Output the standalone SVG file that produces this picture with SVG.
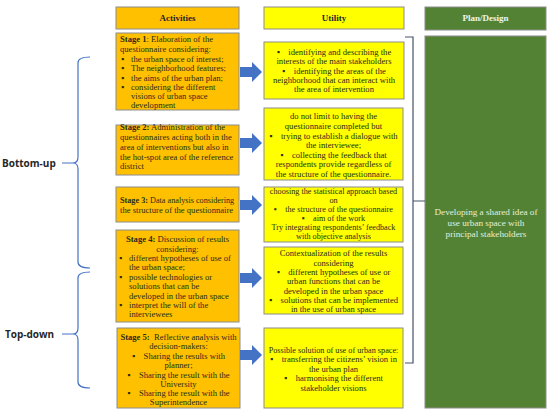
<svg xmlns="http://www.w3.org/2000/svg" width="550" height="414" viewBox="0 0 550 414">
<defs>
<style>
.org{fill:#FFC000;stroke:#8c8c8c;stroke-width:1}
.yel{fill:#FFFF00;stroke:#8c8c8c;stroke-width:1}
.grn{fill:#548235;stroke:#8c8c8c;stroke-width:1}
.t{font-family:"Liberation Serif",serif;font-size:8.6px;fill:#2b2b1a;white-space:pre}
.s{font-size:8.2px}
.c{text-anchor:middle}
.b{font-weight:bold}
.h{font-family:"Liberation Serif",serif;font-size:9px;font-weight:bold;text-anchor:middle;fill:#262626}
.gt{font-family:"Liberation Serif",serif;font-size:9.2px;text-anchor:middle;fill:#e2efd9}
.lbl{font-family:"Open Sans",sans-serif;font-size:10px;font-weight:bold;fill:#262626}
.brace{fill:none;stroke:#4472C4;stroke-width:1.2}
.rb{fill:none;stroke:#44546A;stroke-width:1.2}
</style>
<path id="arr" d="M0,-5 H12 V-10 L22,0 L12,10 V5 H0 Z" fill="#4472C4"/>
</defs>

<g id="header-activities"><rect class="org" x="116" y="7" width="123" height="22"/><text class="h" x="177.5" y="21">Activities</text></g>
<g id="header-utility"><rect class="yel" x="264" y="7" width="140" height="22"/><text class="h" x="334" y="21">Utility</text></g>
<g id="header-plan"><rect class="grn" x="425" y="7" width="121" height="23"/><text class="h" x="485.5" y="21" style="fill:#eef5ea">Plan/Design</text></g>

<g id="stage1"><rect class="org" x="116" y="33" width="123" height="77"/>
<text class="t" x="120" y="42"><tspan class="b">Stage 1</tspan>: Elaboration of the</text>
<text class="t" x="120" y="52">questionnaire considering:</text>
<text class="t" x="121" y="62">▪</text><text class="t" x="131" y="62">the urban space of interest;</text>
<text class="t" x="121" y="71">▪</text><text class="t" x="131" y="71">The neighborhood features;</text>
<text class="t" x="121" y="81">▪</text><text class="t" x="131" y="81">the aims of the urban plan;</text>
<text class="t" x="121" y="90">▪</text><text class="t" x="131" y="90">considering the different</text>
<text class="t" x="131" y="99">visions of urban space</text>
<text class="t" x="131" y="108">development</text>
</g>

<g id="stage2"><rect class="org" x="116" y="125" width="123" height="50"/>
<text class="t" x="120" y="130"><tspan class="b">Stage 2:</tspan> Administration of the</text>
<text class="t" x="120" y="140">questionnaires acting both in the</text>
<text class="t" x="120" y="150">area of interventions but also in</text>
<text class="t" x="120" y="160">the hot-spot area of the reference</text>
<text class="t" x="120" y="169">district</text>
</g>

<g id="stage3"><rect class="org" x="116" y="187" width="123" height="35"/>
<text class="t s" x="120" y="203"><tspan class="b">Stage 3:</tspan> Data analysis considering</text>
<text class="t" x="120" y="213">the structure of the questionnaire</text>
</g>

<g id="stage4"><rect class="org" x="116" y="230" width="123" height="92"/>
<text class="t c" x="177.5" y="242"><tspan class="b">Stage 4:</tspan> Discussion of results</text>
<text class="t c" x="177.5" y="252">considering:</text>
<text class="t" x="119" y="261">▪</text><text class="t" x="129" y="261">different hypotheses of use of</text>
<text class="t" x="129" y="270">the urban space;</text>
<text class="t" x="119" y="280">▪</text><text class="t" x="129" y="280">possible technologies or</text>
<text class="t" x="129" y="289">solutions that can be</text>
<text class="t" x="129" y="299">developed in the urban space</text>
<text class="t" x="119" y="308">▪</text><text class="t" x="129" y="308">interpret the will of the</text>
<text class="t" x="129" y="317">interviewees</text>
</g>

<g id="stage5"><rect class="org" x="117" y="328" width="123" height="80"/>
<text class="t c" x="178.5" y="340"><tspan class="b">Stage 5:</tspan>  Reflective analysis with</text>
<text class="t c" x="178.5" y="349">decision-makers:</text>
<text class="t c" x="178.5" y="359">▪    Sharing the results with</text>
<text class="t c" x="178.5" y="368">planner;</text>
<text class="t c" x="178.5" y="378">▪    Sharing the result with the</text>
<text class="t c" x="178.5" y="387">University</text>
<text class="t c" x="178.5" y="396">▪    Sharing the result with the</text>
<text class="t c" x="178.5" y="405">Superintendence</text>
</g>

<g id="utility1"><rect class="yel" x="264" y="42" width="140" height="57"/>
<text class="t c" x="334" y="55">▪    identifying and describing the</text>
<text class="t c" x="334" y="64">interests of the main stakeholders</text>
<text class="t c" x="334" y="74">▪    identifying the areas of the</text>
<text class="t c" x="334" y="83">neighborhood that can interact with</text>
<text class="t c" x="334" y="92">the area of intervention</text>
</g>

<g id="utility2"><rect class="yel" x="264" y="108" width="139" height="72"/>
<text class="t c" x="333.5" y="119">do not limit to having the</text>
<text class="t c" x="333.5" y="129">questionnaire completed but</text>
<text class="t c" x="333.5" y="139">▪    trying to establish a dialogue with</text>
<text class="t c" x="333.5" y="148">the interviewee;</text>
<text class="t c" x="333.5" y="158">▪    collecting the feedback that</text>
<text class="t c" x="333.5" y="167">respondents provide regardless of</text>
<text class="t c" x="333.5" y="177">the structure of the questionnaire.</text>
</g>

<g id="utility3"><rect class="yel" x="264" y="187" width="139" height="55"/>
<text class="t c s" x="333.5" y="194">choosing the statistical approach based</text>
<text class="t c s" x="333.5" y="203">on</text>
<text class="t c s" x="333.5" y="212">▪    the structure of the questionnaire</text>
<text class="t c s" x="333.5" y="221">▪    aim of the work</text>
<text class="t c s" x="333.5" y="230">Try integrating respondents’ feedback</text>
<text class="t c s" x="333.5" y="239">with objective analysis</text>
</g>

<g id="utility4"><rect class="yel" x="264" y="247" width="139" height="67"/>
<text class="t c" x="333.5" y="256">Contextualization of the results</text>
<text class="t c" x="333.5" y="266">considering</text>
<text class="t c" x="333.5" y="275">▪    different hypotheses of use or</text>
<text class="t c" x="333.5" y="284">urban functions that can be</text>
<text class="t c" x="333.5" y="294">developed in the urban space</text>
<text class="t c" x="333.5" y="303">▪    solutions that can be implemented</text>
<text class="t c" x="333.5" y="312">in the use of urban space</text>
</g>

<g id="utility5"><rect class="yel" x="264" y="328" width="139" height="80"/>
<text class="t c s" x="333.5" y="353">Possible solution of use of urban space:</text>
<text class="t c" x="333.5" y="362">▪    transferring the citizens’ vision in</text>
<text class="t c" x="333.5" y="372">the urban plan</text>
<text class="t c" x="333.5" y="381">▪    harmonising the different</text>
<text class="t c" x="333.5" y="391">stakeholder visions</text>
</g>

<g id="plan-design"><rect class="grn" x="425" y="36" width="121" height="372"/>
<text class="gt" x="486" y="215">Developing a shared idea of</text>
<text class="gt" x="486" y="226">use urban space with</text>
<text class="gt" x="486" y="237">principal stakeholders</text>
</g>

<g id="label-bottom-up"><text class="lbl" x="2" y="167">Bottom-up</text></g>
<g id="label-top-down"><text class="lbl" x="5" y="338">Top-down</text></g>

<g id="connectors">
<use href="#arr" x="240" y="72"/>
<use href="#arr" x="240" y="143"/>
<use href="#arr" x="240" y="205"/>
<use href="#arr" x="240" y="278"/>
<use href="#arr" x="240" y="355"/>
<path class="brace" d="M90,57 Q78,57 78,63 V157 Q78,163 73,163 Q78,163 78,169 V262 Q78,268 90,268 M62,163 H73"/>
<path class="brace" d="M90,272 Q78,272 78,278 V328 Q78,334 73,334 Q78,334 78,340 V382 Q78,388 90,388 M62,334 H73"/>
<path class="rb" d="M405,37 H413 V363 H405 M413,201 H425"/>
</g>
</svg>
